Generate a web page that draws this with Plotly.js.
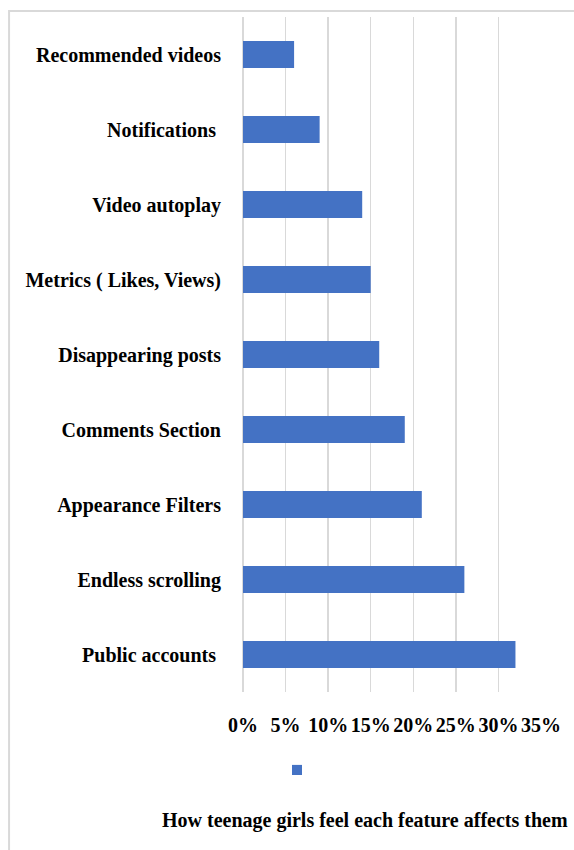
<!DOCTYPE html>
<html>
<head>
<meta charset="utf-8">
<script src="https://cdn.plot.ly/plotly-3.0.1.min.js"></script>
<style>html,body{margin:0;padding:0;background:#fff;}#chart{width:574px;height:850px;}</style>
</head>
<body>
<div id="chart"></div>
<script>
const categories = ["Recommended videos", "Notifications\u00a0", "Video autoplay", "Metrics ( Likes, Views)", "Disappearing posts", "Comments Section", "Appearance Filters", "Endless scrolling", "Public accounts\u00a0"];
const values = [6, 9, 14, 15, 16, 19, 21, 26, 32];
const tickVals = [0, 5, 10, 15, 20, 25, 30, 35];
const tickText = ["0%", "5%", "10%", "15%", "20%", "25%", "30%", "35%"];
const seriesName = "How teenage girls feel each feature affects them";

const fontFam = "Liberation Serif, Times New Roman, serif";
const barColor = "#4472C4";
const gridColor = "#d9d9d9";

const trace = {
  type: "bar",
  orientation: "h",
  y: categories,
  x: values,
  name: seriesName,
  marker: {color: barColor},
  width: 0.36,
  showlegend: false,
  hoverinfo: "x+y"
};

const layout = {
  width: 574, height: 850,
  margin: {l: 243, r: 33, t: 17, b: 158},
  paper_bgcolor: "#fff", plot_bgcolor: "#fff",
  font: {family: fontFam, color: "#000", size: 20, weight: 700},
  xaxis: {
    range: [0, 35], tickvals: tickVals, ticktext: tickText,
    showgrid: true, gridcolor: gridColor, gridwidth: 1.5,
    zeroline: true, zerolinecolor: gridColor, zerolinewidth: 1.5,
    showline: false, ticks: "", ticklabelstandoff: 19,
    tickfont: {family: fontFam, size: 20, weight: 700, color: "#000"},
    fixedrange: true
  },
  yaxis: {
    autorange: "reversed", type: "category",
    showgrid: false, zeroline: false, showline: false, ticks: "",
    ticklabelstandoff: 21,
    tickfont: {family: fontFam, size: 20, weight: 700, color: "#000"},
    fixedrange: true
  },
  shapes: [
    {type: "rect", xref: "paper", yref: "paper", x0: -0.785, x1: 2, y0: -1, y1: 1.0089,
     line: {color: gridColor, width: 2}, fillcolor: "rgba(0,0,0,0)", layer: "below"},
    {type: "rect", xref: "paper", yref: "paper", x0: 0.1644, x1: 0.198, y0: -0.123, y1: -0.108,
     line: {width: 0}, fillcolor: barColor}
  ],
  annotations: [
    {xref: "paper", yref: "paper", x: 0.411, y: -0.19, xanchor: "center", yanchor: "middle",
     showarrow: false, text: seriesName,
     font: {family: fontFam, size: 20, weight: 700, color: "#000"}}
  ]
};

Plotly.newPlot("chart", [trace], layout, {displayModeBar: false, staticPlot: true});
</script>
</body>
</html>
